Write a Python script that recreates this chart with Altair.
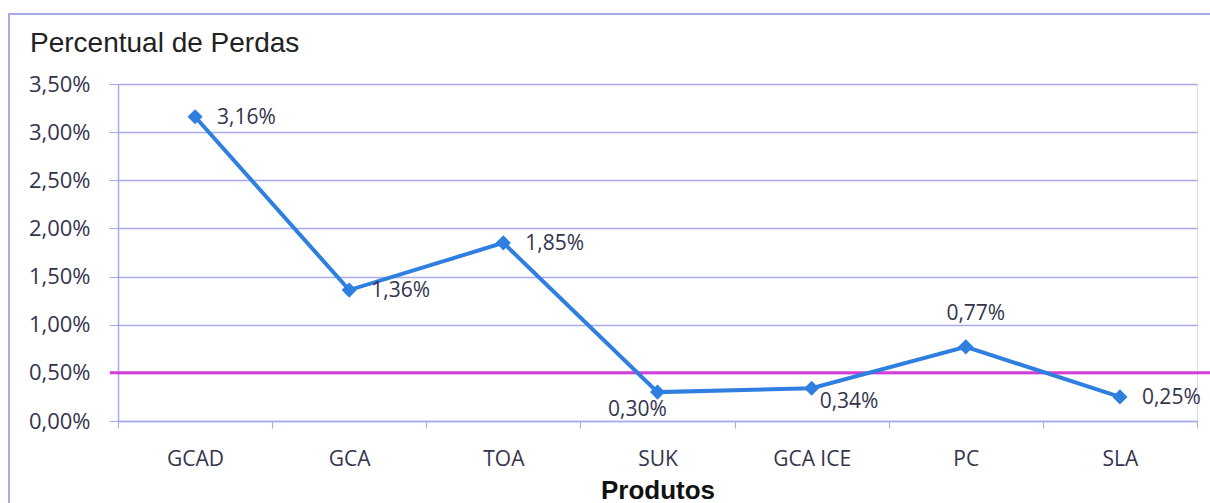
import altair as alt
import pandas as pd

produtos = ["GCAD", "GCA", "TOA", "SUK", "GCA ICE", "PC", "SLA"]
perdas = [3.16, 1.36, 1.85, 0.30, 0.34, 0.77, 0.25]
meta = [0.50]
y_ticks = [0.0, 0.5, 1.0, 1.5, 2.0, 2.5, 3.0, 3.5]

df = pd.DataFrame({"produto": produtos, "perda": perdas})
df_meta = pd.DataFrame({"meta": meta})

GRID = "#a9a9ee"
LINE = "#2f7fe0"
MAGENTA = "#d63cd6"
TXT = "#34344e"
FONT = "Open Sans"
FS = 21

pct = "replace(format(datum.value, '.2f'), '.', ',') + '%'"

x_enc = alt.X(
    "produto:N",
    sort=produtos,
    scale=alt.Scale(paddingInner=0, paddingOuter=0),
    axis=alt.Axis(
        title="Produtos",
        titleFont="Liberation Sans",
        titleFontSize=26,
        titleFontWeight="bold",
        titleColor="#111111",
        titlePadding=8,
        labelFont=FONT,
        labelFontSize=FS,
        labelColor=TXT,
        labelPadding=20,
        labelAngle=0,
        tickBand="extent",
        tickColor=GRID,
        tickSize=7,
        domainColor=GRID,
        domainWidth=1.5,
        grid=False,
    ),
)

y_enc = alt.Y(
    "perda:Q",
    scale=alt.Scale(domain=[0, 3.5], nice=False),
    axis=alt.Axis(
        title=None,
        values=y_ticks,
        labelExpr=pct,
        labelFont=FONT,
        labelFontSize=22,
        labelColor=TXT,
        labelPadding=19,
        tickColor=GRID,
        tickSize=9,
        domainColor=GRID,
        domainWidth=1.5,
        gridColor=GRID,
        gridWidth=1.5,
    ),
)

base = alt.Chart(df)

# outer frame of the chart panel
frame = base.mark_rect(fill=None, stroke=GRID, strokeWidth=2).encode(
    x=alt.value(-109), x2=alt.value(1110), y=alt.value(-70), y2=alt.value(100 + 337)
).transform_filter("datum.produto == 'GCAD'")

meta_rule = alt.Chart(df_meta).mark_rule(color=MAGENTA, strokeWidth=3).encode(
    y=alt.Y("meta:Q", scale=alt.Scale(domain=[0, 3.5], nice=False)),
    x=alt.value(-8),
    x2=alt.value(1092),
)

line = base.mark_line(
    color=LINE, strokeWidth=4,
    point=alt.OverlayMarkDef(shape="diamond", size=230, filled=True, color=LINE, opacity=1),
).encode(x=x_enc, y=y_enc)

label_txt = base.transform_calculate(
    rotulo="replace(format(datum.perda, '.2f'), '.', ',') + '%'"
)


def rotulos(nomes, **kw):
    cond = " || ".join(f"datum.produto == '{n}'" for n in nomes)
    return label_txt.transform_filter(cond).mark_text(
        font=FONT, fontSize=FS, color=TXT, **kw
    ).encode(
        x=alt.X("produto:N", sort=produtos),
        y=alt.Y("perda:Q"),
        text="rotulo:N",
    )


labels = alt.layer(
    rotulos(["GCAD", "GCA", "TOA", "SLA"], align="left", dx=22, dy=1),
    rotulos(["GCA ICE"], align="left", dx=8, dy=14),
    rotulos(["SUK"], align="center", dx=-20, dy=18),
    rotulos(["PC"], align="center", dx=10, dy=-33),
)

chart = alt.layer(frame, meta_rule, line, labels).properties(
    width=1079,
    height=337,
    padding={"left": 118, "top": 84, "right": 13, "bottom": 82},
    autosize=alt.AutoSizeParams(type="none"),
    title=alt.TitleParams(
        "Percentual de Perdas",
        anchor="start",
        frame="group",
        dx=-88,
        offset=-45,
        font="Liberation Sans",
        fontSize=28,
        fontWeight="normal",
        color="#222222",
    ),
).configure_view(stroke=None).configure(background="white")

chart.save("out.html", embed_options={"renderer": "svg", "actions": False})
